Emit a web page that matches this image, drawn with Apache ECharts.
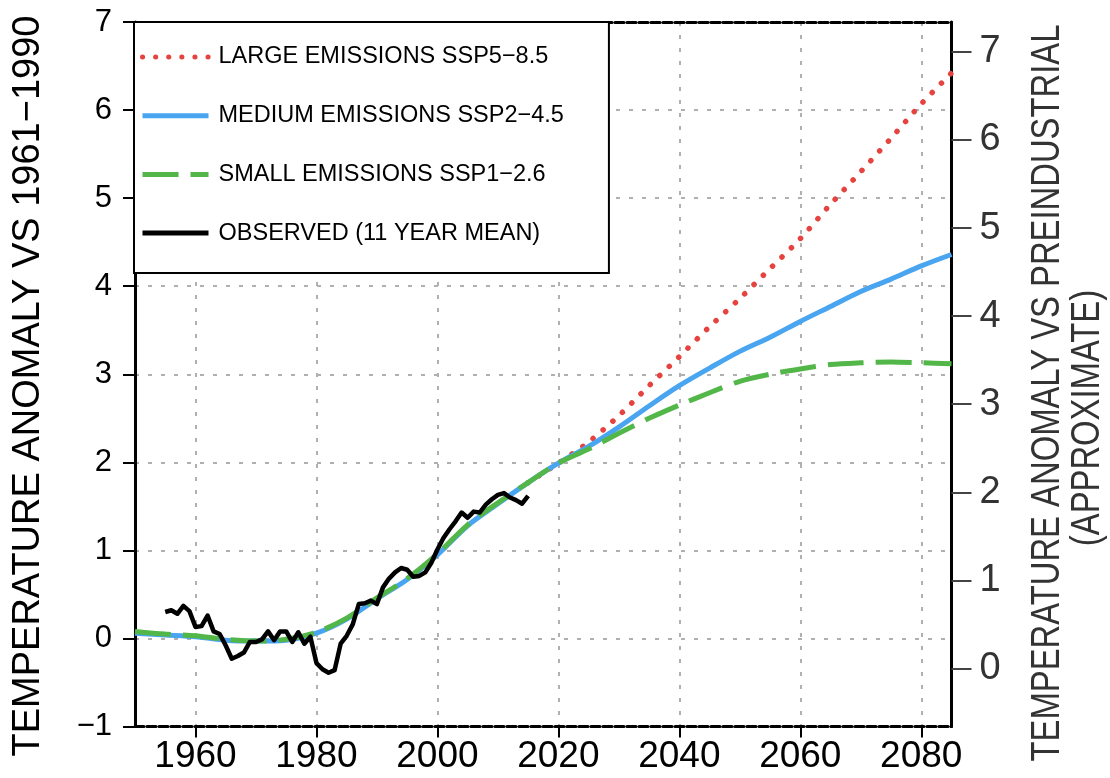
<!DOCTYPE html>
<html><head><meta charset="utf-8">
<script src="https://cdn.jsdelivr.net/npm/echarts@6/dist/echarts.min.js"></script>
<style>html,body{margin:0;padding:0;background:#fff}#c{width:1110px;height:778px}</style>
</head><body><div id="c"></div>
<script>
// ---- data ----
const modelYears = [1950,1955,1960,1965,1970,1975,1980,1985,1990,1995,2000,2005,2010,2015,2020,2025,2030,2035,2040,2045,2050,2055,2060,2065,2070,2075,2080,2085];
const ssp245 = [0.06,0.04,0.02,-0.02,-0.03,-0.02,0.06,0.22,0.45,0.67,0.95,1.28,1.53,1.77,1.99,2.18,2.40,2.64,2.87,3.07,3.26,3.42,3.60,3.77,3.94,4.08,4.23,4.36];
const ssp126 = [0.08,0.05,0.03,-0.01,-0.03,-0.01,0.07,0.23,0.46,0.68,0.96,1.29,1.54,1.77,1.99,2.15,2.33,2.50,2.65,2.79,2.92,3.00,3.06,3.11,3.13,3.14,3.13,3.12];
const ssp585Years = [2015,2020,2025,2030,2035,2040,2045,2050,2055,2060,2065,2070,2075,2080,2085];
const ssp585 = [1.77,1.99,2.23,2.53,2.87,3.20,3.54,3.86,4.20,4.54,4.93,5.30,5.68,6.07,6.42];
const obsYears = [1955,1956,1957,1958,1959,1960,1961,1962,1963,1964,1965,1966,1967,1968,1969,1970,1971,1972,1973,1974,1975,1976,1977,1978,1979,1980,1981,1982,1983,1984,1985,1986,1987,1988,1989,1990,1991,1992,1993,1994,1995,1996,1997,1998,1999,2000,2001,2002,2003,2004,2005,2006,2007,2008,2009,2010,2011,2012,2013,2014,2015];
const observed = [0.30,0.32,0.28,0.37,0.31,0.13,0.14,0.26,0.08,0.05,-0.08,-0.23,-0.20,-0.16,-0.04,-0.04,-0.01,0.08,-0.02,0.08,0.08,-0.04,0.07,-0.06,0.02,-0.28,-0.35,-0.39,-0.36,-0.06,0.03,0.16,0.39,0.40,0.43,0.39,0.58,0.68,0.75,0.80,0.78,0.70,0.71,0.75,0.86,1.01,1.14,1.24,1.33,1.43,1.37,1.44,1.43,1.52,1.58,1.63,1.65,1.60,1.57,1.53,1.62];
const xTickYears = [1960,1980,2000,2020,2040,2060,2080];
const rightTicks = [0,1,2,3,4,5,6,7];
const seriesNames = ['LARGE EMISSIONS SSP5\u22128.5','MEDIUM EMISSIONS SSP2\u22124.5','SMALL EMISSIONS SSP1\u22122.6','OBSERVED (11 YEAR MEAN)'];
const leftTitle = 'TEMPERATURE ANOMALY VS 1961\u22121990';
const rightTitle1 = 'TEMPERATURE ANOMALY VS PREINDUSTRIAL';
const rightTitle2 = '(APPROXIMATE)';

const pairs = (xs, ys) => xs.map((x, i) => [x, ys[i]]);
const FONT = "'Liberation Sans', Arial, sans-serif";
const gridLine = {show: true, lineStyle: {color: '#b0b0b0', width: 2, type: [4, 9]}};
const dashedBorder = {show: true, onZero: false, lineStyle: {color: '#000', width: 3, type: [9, 3]}};
const minus = v => String(v).replace('-', '\u2212');

const chart = echarts.init(document.getElementById('c'), null, {renderer: 'canvas'});
chart.setOption({
  animation: false,
  backgroundColor: '#fff',
  grid: {left: 135, right: 158.5, top: 22, bottom: 51.5, outerBoundsMode: 'none'},
  legend: {
    data: seriesNames,
    orient: 'vertical',
    left: 134, top: 22,
    padding: [21, 45, 26, 6],
    itemGap: 30.7,
    itemWidth: 66, itemHeight: 28,
    backgroundColor: '#fff', borderColor: '#000', borderWidth: 2, borderRadius: 0,
    selectedMode: false,
    lineStyle: {width: 5},
    itemStyle: {opacity: 0, color: 'rgba(0,0,0,0)', borderWidth: 0},
    textStyle: {fontSize: 23.5, lineHeight: 28, color: '#000', fontFamily: FONT, padding: [0, 0, 0, 5]},
    z: 10
  },
  xAxis: [{
    type: 'value', min: 1950, max: 2085, position: 'bottom',
    axisLine: dashedBorder,
    axisTick: {show: true, customValues: xTickYears, length: 11, lineStyle: {color: '#000', width: 2}},
    axisLabel: {customValues: xTickYears, fontSize: 37, color: '#000', fontFamily: FONT, margin: 12, formatter: v => String(v)},
    splitLine: gridLine
  }, {
    type: 'value', min: 1950, max: 2085, position: 'top',
    axisLine: dashedBorder,
    axisTick: {show: false}, axisLabel: {show: false}, splitLine: {show: false}
  }],
  yAxis: [{
    type: 'value', min: -1, max: 7, interval: 1, position: 'left',
    axisLine: {show: true, onZero: false, lineStyle: {color: '#000', width: 3}},
    axisTick: {show: true, length: 12, lineStyle: {color: '#000', width: 2}},
    axisLabel: {fontSize: 31, color: '#000', fontFamily: FONT, margin: 23, formatter: minus},
    splitLine: gridLine
  }, {
    type: 'value', min: -0.66, max: 7.34, position: 'right',
    axisLine: {show: true, onZero: false, lineStyle: {color: '#000', width: 3}},
    axisTick: {show: true, customValues: rightTicks, length: 20, lineStyle: {color: '#444', width: 2}},
    axisLabel: {customValues: rightTicks, fontSize: 38, color: '#333', fontFamily: FONT, margin: 28},
    splitLine: {show: false}
  }],
  graphic: [
    {type: 'text', x: 29, y: 386, rotation: Math.PI / 2,
     style: {text: leftTitle, fontSize: 38, fontFamily: FONT, fill: '#000', align: 'center', verticalAlign: 'middle'}},
    {type: 'text', x: 1048, y: 393, rotation: Math.PI / 2, scaleX: 0.82,
     style: {text: rightTitle1, fontSize: 40, fontFamily: FONT, fill: '#333', align: 'center', verticalAlign: 'middle'}},
    {type: 'text', x: 1088, y: 418, rotation: Math.PI / 2, scaleX: 0.82,
     style: {text: rightTitle2, fontSize: 40, fontFamily: FONT, fill: '#333', align: 'center', verticalAlign: 'middle'}}
  ],
  series: [{
    name: seriesNames[0], type: 'line', data: pairs(ssp585Years, ssp585),
    symbol: 'none', smooth: 0.3, z: 2,
    itemStyle: {color: '#e5433f'},
    lineStyle: {color: '#e5433f', width: 5.5, type: [0.1, 13], cap: 'round'}
  }, {
    name: seriesNames[1], type: 'line', data: pairs(modelYears, ssp245),
    symbol: 'none', smooth: 0.3, z: 3,
    itemStyle: {color: '#4aa5f0'},
    lineStyle: {color: '#4aa5f0', width: 5}
  }, {
    name: seriesNames[2], type: 'line', data: pairs(modelYears, ssp126),
    symbol: 'none', smooth: 0.3, z: 4,
    itemStyle: {color: '#52b748'},
    lineStyle: {color: '#52b748', width: 5, type: [36, 12]}
  }, {
    name: seriesNames[3], type: 'line', data: pairs(obsYears, observed),
    symbol: 'none', z: 5,
    itemStyle: {color: '#000'},
    lineStyle: {color: '#000', width: 4.5, join: 'round'}
  }]
});
</script></body></html>
